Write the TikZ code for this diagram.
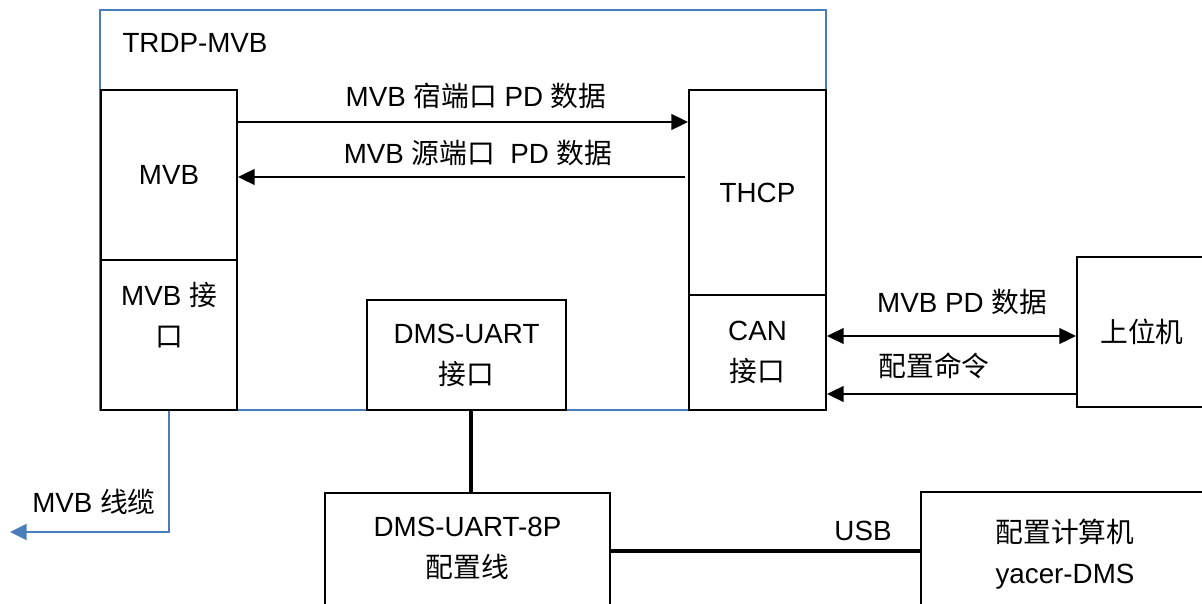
\documentclass[tikz,border=0pt]{standalone}
\usepackage{fontspec}
\setmainfont{Liberation Sans}
\newfontfamily\zh{Noto Sans CJK SC}
\usetikzlibrary{arrows.meta}
\definecolor{busblue}{RGB}{74,126,187}

\begin{document}
\begin{tikzpicture}[x=0.02cm,y=-0.02cm,>={Triangle[length=9.5pt,width=9pt]},
  font=\fontsize{15.8}{23.3}\selectfont,
  px size/.style 2 args={minimum width=#1*0.02cm,minimum height=#2*0.02cm},
  box/.style={draw,line width=1.1pt,inner sep=0pt,align=center},
  frame/.style={draw=busblue,line width=1.5pt,inner sep=0pt},
  lbl/.style={inner sep=0pt},
  link/.style={line width=1pt},
  wire/.style={line width=1.8pt},
  bus/.style={draw=busblue,line width=1.5pt}]
  \useasboundingbox (0,0) rectangle (1202,604);
  \clip (0,0) rectangle (1202,604);

  % TRDP-MVB device
  \node[frame, px size={726}{400}] (trdp) at (463,210) {};
  \node[lbl] (trdplbl) at (195,43) {TRDP-MVB};
  \node[box, px size={136}{170}] (mvb) at (169,175) {MVB};
  \node[box, px size={136}{150}] (mvbif) at (169,335) {MVB {\zh 接}\\{\zh 口}\\\mbox{}};
  \node[box, px size={137}{205}] (thcp) at (757.5,192.5) {THCP};
  \node[box, px size={137}{115}] (can) at (757.5,352.5) {CAN\\{\zh 接口}};
  \node[box, px size={199}{110}] (dms) at (466.5,355) {DMS-UART\\{\zh 接口}};

  % outside
  \node[box, px size={285}{150}] (cable) at (467.5,568) {DMS-UART-8P\\{\zh 配置线}\\\mbox{}};
  \node[box, px size={288}{160}] (pc) at (1065,572) {{\zh 配置计算机}\\yacer-DMS\\\mbox{}};
  \node[box, px size={130}{150}] (host) at (1142,332) {{\zh 上位机}};
  \coordinate (busend) at (10,532);

  % labels
  \node[lbl] (sinklbl) at (476,96) {MVB {\zh 宿端口} PD {\zh 数据}};
  \node[lbl] (srclbl) at (478,153) {MVB {\zh 源端口}\ \ PD {\zh 数据}};
  \node[lbl] (pdlbl) at (962,302) {MVB PD {\zh 数据}};
  \node[lbl] (cmdlbl) at (934,366) {\zh 配置命令};
  \node[lbl] (usblbl) at (863,531) {USB};
  \node[lbl] (buslbl) at (94,502) {MVB {\zh 线缆}};

  \draw[link,->] (mvb.east |- 0,122) -- (thcp.west |- 0,122);
  \draw[link,->] ([xshift=-3*0.02cm]thcp.west |- 0,177) -- (mvb.east |- 0,177);
  \draw[link,<->] (can.east |- 0,336) -- (host.west |- 0,336);
  \draw[link,->] (host.west |- 0,394) -- (can.east |- 0,394);
  \draw[wire] (dms.south -| 471,0) -- (cable.north -| 471,0);
  \draw[wire] (cable.east |- 0,551) -- (pc.west |- 0,551);
  \draw[bus,->] (mvbif.south) |- (busend);
\end{tikzpicture}
\end{document}
